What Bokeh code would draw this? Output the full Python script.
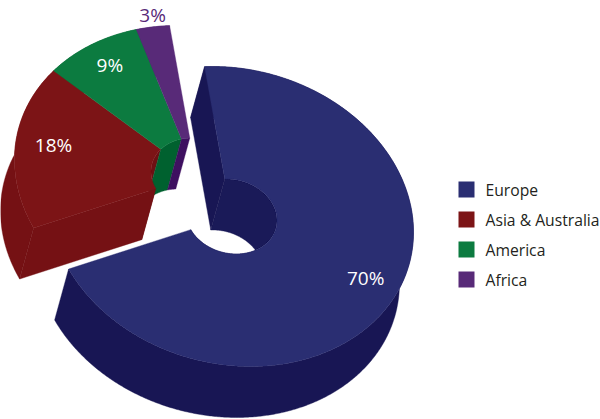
import numpy as np
from bokeh.plotting import figure
from bokeh.models import Range1d
from bokeh.core.properties import value
from bokeh.embed import file_html
from bokeh.resources import INLINE

# --- data
categories = ["Europe", "Asia & Australia", "America", "Africa"]
shares = [70, 18, 9, 3]
pct_labels = ["70%", "18%", "9%", "3%"]
exploded = [0, 1, 1, 1]

# --- style
top_colors = ["#2a2e72", "#7c1416", "#0c7b40", "#582a78"]
wall_colors = ["#181654", "#751114", "#00612f", "#3e1060"]
inner_colors = ["#1a1a58", "#6e1013", "#00612f", "#3e1060"]
label_colors = ["#ffffff", "#ffffff", "#ffffff", "#582a78"]
label_radius = [0.81, 0.795, 0.84, 1.08]
label_turn = [-3.0, 3.0, 1.0, 1.0]
TEXT = "#231f20"
FONT = "Open Sans"

W, H = 600, 419
p = figure(width=W, height=H, output_backend="svg", toolbar_location=None,
           x_range=Range1d(0, W), y_range=Range1d(H, 0), min_border=0,
           outline_line_color=None, background_fill_color="white", border_fill_color="white")
p.axis.visible = False
p.grid.visible = False

# --- projection of the ring
CX, CY, RX, RY, TILT = 231.0, 216.0, 182.0, 150.0, np.radians(6)
INNER = 0.25
DEPTH = np.array([-14.0, 51.0])
SHIFT = np.array([-35.0, -41.0])
START = -98.5


def arc(t0, t1, k, off=(0, 0)):
    t = np.radians(np.linspace(t0, t1, max(int(abs(t1 - t0)) * 2, 8)))
    return (CX + k * RX * np.cos(t) + off[0],
            CY + k * RY * np.sin(t + TILT) + off[1])


def point(t, k, off=(0, 0)):
    t = np.radians(t)
    return (CX + k * RX * np.cos(t) + off[0], CY + k * RY * np.sin(t + TILT) + off[1])


def fill(xs, ys, color):
    p.patch(xs, ys, fill_color=color, line_color=color, line_width=0.4)


def ribbon(t0, t1, k, off, color):
    x, y = arc(t0, t1, k, off)
    fill(np.r_[x, (x + DEPTH[0])[::-1]], np.r_[y, (y + DEPTH[1])[::-1]], color)


def radial_wall(t, off, color):
    ax, ay = point(t, 1, off)
    bx, by = point(t, INNER, off)
    fill([ax, bx, bx + DEPTH[0], ax + DEPTH[0]], [ay, by, by + DEPTH[1], ay + DEPTH[1]], color)


def top(t0, t1, off, color):
    ox, oy = arc(t0, t1, 1, off)
    ix, iy = arc(t0, t1, INNER, off)
    fill(np.r_[ox, ix[::-1]], np.r_[oy, iy[::-1]], color)


edges = START + np.cumsum([0] + shares) * 3.6
spans = list(zip(edges[:-1], edges[1:]))
offs = [SHIFT * e for e in exploded]

# exploded group, back to front
group = [i for i, e in enumerate(exploded) if e]
for i in group:
    ribbon(spans[i][0], spans[i][1], INNER, offs[i], inner_colors[i])
for i in group:
    ribbon(spans[i][0], spans[i][1], 1, offs[i], wall_colors[i])
radial_wall(spans[group[0]][0], offs[group[0]], wall_colors[group[0]])
for i in group:
    top(spans[i][0], spans[i][1], offs[i], top_colors[i])

# main slice
for i in [j for j, e in enumerate(exploded) if not e]:
    ribbon(spans[i][0], spans[i][1], 1, offs[i], wall_colors[i])
    ribbon(spans[i][0], spans[i][1], INNER, offs[i], inner_colors[i])
    radial_wall(spans[i][0], offs[i], wall_colors[i])
    top(spans[i][0], spans[i][1], offs[i], top_colors[i])

# percentage labels
for i, lab in enumerate(pct_labels):
    x, y = point(sum(spans[i]) / 2 + label_turn[i], label_radius[i], offs[i])
    p.text([x], [y], text=[lab], text_color=label_colors[i], text_font=value(FONT),
           text_font_size="19px", text_align="center", text_baseline="middle")

# legend
LEG_Y0, LEG_DY, LEG_X, LEG_SIZE, LEG_TX = 189.0, 30.0, 466.0, 16.0, 485.0
ly = [LEG_Y0 + LEG_DY * i for i in range(len(categories))]
p.rect([LEG_X] * len(ly), ly, width=LEG_SIZE, height=LEG_SIZE, fill_color=top_colors, line_color=None)
p.text([LEG_TX] * len(ly), ly, text=categories, text_color=TEXT, text_font=value(FONT),
       text_font_size="15.7px", text_align="left", text_baseline="middle")

open("out.html", "w").write(file_html(p, INLINE))
